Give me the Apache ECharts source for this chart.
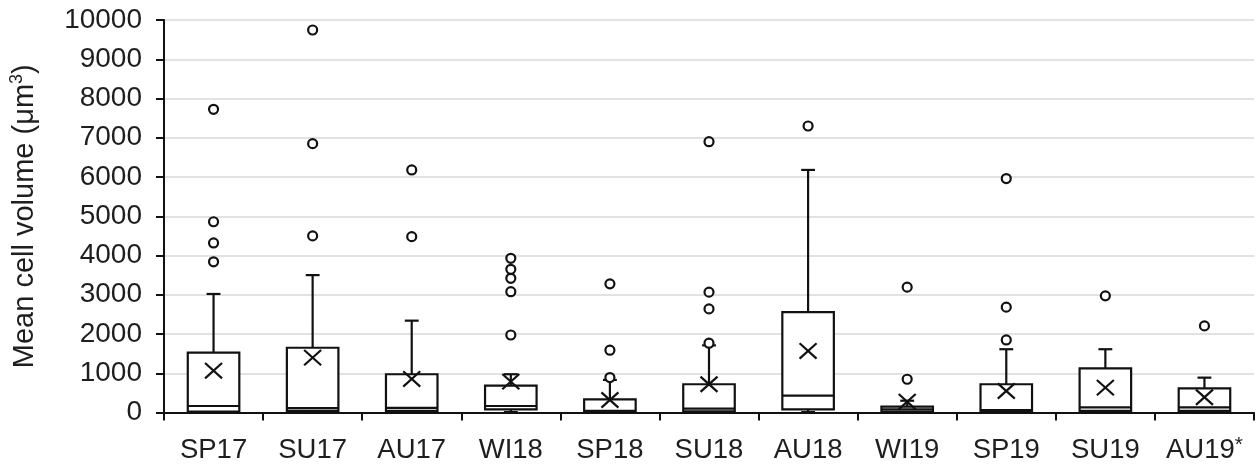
<!DOCTYPE html>
<html>
<head>
<meta charset="utf-8">
<script src="https://cdn.jsdelivr.net/npm/echarts@6/dist/echarts.min.js"></script>
<style>
html,body{margin:0;padding:0;background:#fff;}
#chart{width:1260px;height:470px;}
</style>
</head>
<body>
<div id="chart"></div>
<script>
var categories = ['SP17','SU17','AU17','WI18','SP18','SU18','AU18','WI19','SP19','SU19','AU19*'];
var minVals    = [5, 5, 5, 10, 5, 5, 10, 5, 5, 5, 5];
var q1Vals     = [25, 40, 40, 80, 20, 30, 80, 20, 15, 40, 40];
var medianVals = [165, 110, 120, 165, 45, 100, 430, 80, 60, 130, 130];
var q3Vals     = [1525, 1650, 975, 685, 335, 720, 2555, 150, 720, 1125, 615];
var maxVals    = [3020, 3500, 2340, 975, 830, 1710, 6180, 300, 1612, 1612, 888];
var meanVals   = [1066, 1398, 855, 786, 319, 719, 1569, 276, 548, 633, 388];
var outlierVals = [
  [3840, 4320, 4860, 7725],
  [4500, 6850, 9745],
  [4480, 6180],
  [1975, 3078, 3419, 3648, 3929],
  [890, 1587, 3278],
  [1765, 2640, 3066, 6900],
  [7300],
  [847, 3194],
  [1849, 2684, 5960],
  [2972],
  [2207]
];
var yTicks = {min: 0, max: 10000, interval: 1000};

var boxData = categories.map(function (c, i) {
  return [i, minVals[i], q1Vals[i], medianVals[i], q3Vals[i], maxVals[i], meanVals[i]];
});
var outlierData = [];
outlierVals.forEach(function (arr, i) {
  arr.forEach(function (v) { outlierData.push([i, v]); });
});

var FONT = "'Liberation Sans', Arial, sans-serif";
var TXT = '#1e1e1e';
var LINE = '#111';
var LW = 2.2;

function renderBox(params, api) {
  var i = api.value(0);
  var band = api.size([1, 0])[0];
  var bw = band * 0.52;
  var cw = band * 0.14;
  var pMin = api.coord([i, api.value(1)]);
  var pQ1 = api.coord([i, api.value(2)]);
  var pMed = api.coord([i, api.value(3)]);
  var pQ3 = api.coord([i, api.value(4)]);
  var pMax = api.coord([i, api.value(5)]);
  var pMean = api.coord([i, api.value(6)]);
  var x = pQ1[0];
  var st = {stroke: LINE, lineWidth: LW, fill: null};
  var ms = 8.5;
  return {
    type: 'group',
    children: [
      {type: 'line', shape: {x1: x, y1: pQ3[1], x2: x, y2: pMax[1]}, style: st},
      {type: 'line', shape: {x1: x - cw / 2, y1: pMax[1], x2: x + cw / 2, y2: pMax[1]}, style: st},
      {type: 'line', shape: {x1: x, y1: pQ1[1], x2: x, y2: pMin[1]}, style: st},
      {type: 'line', shape: {x1: x - cw / 2, y1: pMin[1], x2: x + cw / 2, y2: pMin[1]}, style: st},
      {type: 'rect', shape: {x: x - bw / 2, y: pQ3[1], width: bw, height: pQ1[1] - pQ3[1]},
        style: {stroke: LINE, lineWidth: LW, fill: '#fff'}},
      {type: 'line', shape: {x1: x - bw / 2, y1: pMed[1], x2: x + bw / 2, y2: pMed[1]}, style: st},
      {type: 'line', shape: {x1: x - ms, y1: pMean[1] - ms * 0.9, x2: x + ms, y2: pMean[1] + ms * 0.9}, style: st},
      {type: 'line', shape: {x1: x - ms, y1: pMean[1] + ms * 0.9, x2: x + ms, y2: pMean[1] - ms * 0.9}, style: st}
    ]
  };
}

var chart = echarts.init(document.getElementById('chart'), null, {renderer: 'canvas'});
chart.setOption({
  animation: false,
  backgroundColor: '#fff',
  grid: {left: 163, right: 6, top: 20, bottom: 57.5, containLabel: false},
  xAxis: {
    type: 'category',
    data: categories,
    boundaryGap: true,
    axisLine: {lineStyle: {color: LINE, width: 2}},
    axisTick: {show: true, length: 8, interval: 0, lineStyle: {color: LINE, width: 2}},
    axisLabel: {
      interval: 0,
      margin: 22,
      color: TXT,
      fontFamily: FONT,
      fontSize: 27.5,
      formatter: function (v) {
        if (v.indexOf('*') >= 0) {
          return '{a|' + v.replace('*', '') + '}{s|*}';
        }
        return '{a|' + v + '}';
      },
      rich: {
        a: {fontSize: 27.5, fontFamily: FONT, color: TXT, lineHeight: 32},
        s: {fontSize: 21, fontFamily: FONT, color: TXT, verticalAlign: 'top', lineHeight: 12}
      }
    },
    splitLine: {show: false}
  },
  yAxis: {
    type: 'value',
    min: yTicks.min,
    max: yTicks.max,
    interval: yTicks.interval,
    name: '{a|Mean cell volume (μm}{s|3}{a|)}',
    nameLocation: 'middle',
    nameRotate: 90,
    nameGap: 122,
    nameTextStyle: {
      rich: {
        a: {fontSize: 29, fontFamily: FONT, color: TXT, lineHeight: 34},
        s: {fontSize: 18, fontFamily: FONT, color: TXT, verticalAlign: 'top', lineHeight: 14}
      }
    },
    axisLine: {show: true, lineStyle: {color: LINE, width: 2}},
    axisTick: {show: true, length: 8, lineStyle: {color: LINE, width: 2}},
    axisLabel: {
      margin: 22, color: TXT, fontFamily: FONT, fontSize: 28,
      formatter: function (v) { return String(v); }
    },
    splitLine: {show: true, lineStyle: {color: '#d9d9d9', width: 1.5}}
  },
  series: [
    {
      type: 'custom',
      renderItem: renderBox,
      data: boxData,
      encode: {x: 0, y: [1, 2, 3, 4, 5, 6]},
      z: 3
    },
    {
      type: 'scatter',
      data: outlierData,
      symbol: 'circle',
      symbolSize: 9,
      itemStyle: {color: '#fff', borderColor: LINE, borderWidth: 2.2, opacity: 1},
      z: 4
    }
  ]
});
</script>
</body>
</html>
